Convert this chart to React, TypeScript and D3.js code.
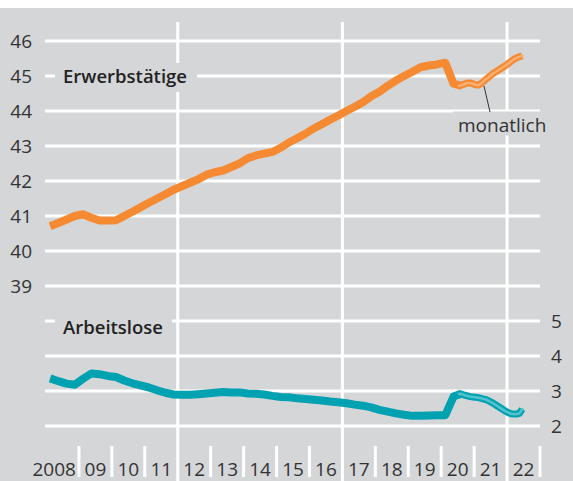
import React, { useEffect, useRef } from 'react'
import * as d3 from 'd3'

// quarterly values, 2008 Q1 .. 2020 Q3 (millions)
const employedQ = [
  40.71, 40.8, 40.9, 41.0, 41.05, 40.95, 40.87, 40.87, 40.88, 41.0, 41.12, 41.25,
  41.38, 41.5, 41.62, 41.75, 41.85, 41.95, 42.05, 42.18, 42.25, 42.3, 42.4, 42.5,
  42.65, 42.73, 42.78, 42.83, 42.95, 43.1, 43.22, 43.35, 43.5, 43.62, 43.75, 43.87,
  44.0, 44.12, 44.25, 44.42, 44.55, 44.72, 44.87, 45.0, 45.12, 45.25, 45.3, 45.33,
  45.38, 44.78, 44.72,
]
const unemployedQ = [
  3.36, 3.28, 3.21, 3.18, 3.35, 3.5, 3.48, 3.43, 3.4, 3.3, 3.22, 3.16,
  3.1, 3.02, 2.95, 2.9, 2.89, 2.89, 2.91, 2.93, 2.95, 2.97, 2.96, 2.96,
  2.93, 2.92, 2.9, 2.86, 2.83, 2.82, 2.79, 2.77, 2.75, 2.73, 2.7, 2.68,
  2.65, 2.61, 2.58, 2.53, 2.46, 2.41, 2.36, 2.32, 2.29, 2.29, 2.3, 2.31,
  2.31, 2.84, 2.93,
]
// monthly values, Jul 2020 .. Jun 2022
const employedM = [
  44.72, 44.74, 44.77, 44.8, 44.8, 44.78, 44.75, 44.74, 44.78, 44.85, 44.92, 44.98,
  45.05, 45.1, 45.15, 45.2, 45.25, 45.3, 45.36, 45.42, 45.48, 45.52, 45.55, 45.58,
]
const unemployedM = [
  2.92, 2.91, 2.88, 2.86, 2.84, 2.83, 2.82, 2.81, 2.79, 2.77, 2.75, 2.71,
  2.67, 2.62, 2.57, 2.52, 2.47, 2.42, 2.38, 2.35, 2.34, 2.34, 2.36, 2.48,
]
const leftTicks = [46, 45, 44, 43, 42, 41, 40, 39]
const rightTicks = [5, 4, 3, 2]
const yearLabels = ['2008', '09', '10', '11', '12', '13', '14', '15', '16', '17', '18', '19', '20', '21', '22']
const majorYears = [2012, 2017, 2022]

const ORANGE = '#f58a32'
const ORANGE_LIGHT = '#faae70'
const TEAL = '#00a1b1'
const TEAL_LIGHT = '#52c2cc'
const BG = '#d5d6d8'
const TEXT = '#333333'

function App() {
  const ref = useRef<SVGSVGElement>(null)

  useEffect(() => {
    const svg = d3.select(ref.current)
    svg.selectAll('*').remove()
    const W = 573
    const H = 481

    const x = d3.scaleLinear().domain([2008, 2023]).range([46, 540])
    const yTop = d3.scaleLinear().domain([39, 46]).range([286, 41])
    const yBot = d3.scaleLinear().domain([2, 5]).range([426, 321])

    svg.append('rect').attr('x', 0).attr('y', 8).attr('width', W).attr('height', H - 8).attr('fill', BG)

    // horizontal guides
    leftTicks.forEach((t) => {
      svg.append('line').attr('x1', 45).attr('x2', 540).attr('y1', yTop(t)).attr('y2', yTop(t))
        .attr('stroke', '#fff').attr('stroke-width', 3)
      svg.append('text').attr('x', 32).attr('y', yTop(t) + 7).attr('text-anchor', 'end')
        .attr('font-size', 19).attr('fill', TEXT).text(t)
    })
    rightTicks.forEach((t) => {
      svg.append('line').attr('x1', 45).attr('x2', 540).attr('y1', yBot(t)).attr('y2', yBot(t))
        .attr('stroke', '#fff').attr('stroke-width', 3)
      svg.append('text').attr('x', 551).attr('y', yBot(t) + 7)
        .attr('font-size', 19).attr('fill', TEXT).text(t)
    })

    // vertical guides and year ticks
    d3.range(2009, 2024).forEach((yr) => {
      const major = majorYears.includes(yr)
      svg.append('line').attr('x1', x(yr)).attr('x2', x(yr))
        .attr('y1', major ? 22 : 446).attr('y2', major ? H : 477)
        .attr('stroke', '#fff').attr('stroke-width', 3)
    })
    yearLabels.forEach((lab, i) => {
      const first = i === 0
      svg.append('text').attr('x', first ? x(2009) - 3 : x(2008 + i + 0.5)).attr('y', 476)
        .attr('text-anchor', first ? 'end' : 'middle')
        .attr('font-size', 19).attr('fill', TEXT).text(lab)
    })

    // label boxes
    svg.append('rect').attr('x', 55).attr('y', 63).attr('width', 142).attr('height', 29).attr('fill', BG)
    svg.append('text').attr('x', 63).attr('y', 83).attr('font-size', 18.5).attr('font-weight', 600)
      .attr('fill', '#222').text('Erwerbstätige')
    svg.append('rect').attr('x', 55).attr('y', 311).attr('width', 117).attr('height', 29).attr('fill', BG)
    svg.append('text').attr('x', 63).attr('y', 334).attr('font-size', 18.5).attr('font-weight', 600)
      .attr('fill', '#222').text('Arbeitslose')
    svg.append('rect').attr('x', 453).attr('y', 111.5).attr('width', 92).attr('height', 24).attr('fill', BG)

    const qx = (i: number) => x(2008 + (i + 0.5) / 4)
    const mx = (i: number) => x(2020.5 + (i + 0.5) / 12)

    const drawQ = (vals: number[], y: d3.ScaleLinear<number, number>, color: string) => {
      const line = d3.line<number>().x((_, i) => qx(i)).y((d) => y(d))
      svg.append('path').datum(vals).attr('fill', 'none').attr('stroke', color)
        .attr('stroke-width', 8).attr('stroke-linejoin', 'round').attr('d', line)
    }
    const drawM = (vals: number[], y: d3.ScaleLinear<number, number>, color: string, light: string) => {
      const line = d3.line<number>().x((_, i) => mx(i)).y((d) => y(d))
      svg.append('path').datum(vals).attr('fill', 'none').attr('stroke', color)
        .attr('stroke-width', 7).attr('stroke-linejoin', 'round').attr('d', line)
      svg.append('path').datum(vals).attr('fill', 'none').attr('stroke', light)
        .attr('stroke-width', 2.6).attr('stroke-linejoin', 'round').attr('stroke-linecap', 'round').attr('d', line)
    }

    drawQ(employedQ, yTop, ORANGE)
    drawM(employedM, yTop, ORANGE, ORANGE_LIGHT)
    drawQ(unemployedQ, yBot, TEAL)
    drawM(unemployedM, yBot, TEAL, TEAL_LIGHT)

    // annotation
    svg.append('line').attr('x1', 484).attr('y1', 86).attr('x2', 490).attr('y2', 112)
      .attr('stroke', '#333').attr('stroke-width', 1)
    svg.append('text').attr('x', 458).attr('y', 132).attr('font-size', 19).attr('fill', TEXT).text('monatlich')
  }, [])

  return (
    <svg
      ref={ref}
      width={573}
      height={481}
      style={{ position: 'absolute', left: 0, top: 0, fontFamily: '"Open Sans", sans-serif' }}
    />
  )
}

export default App
